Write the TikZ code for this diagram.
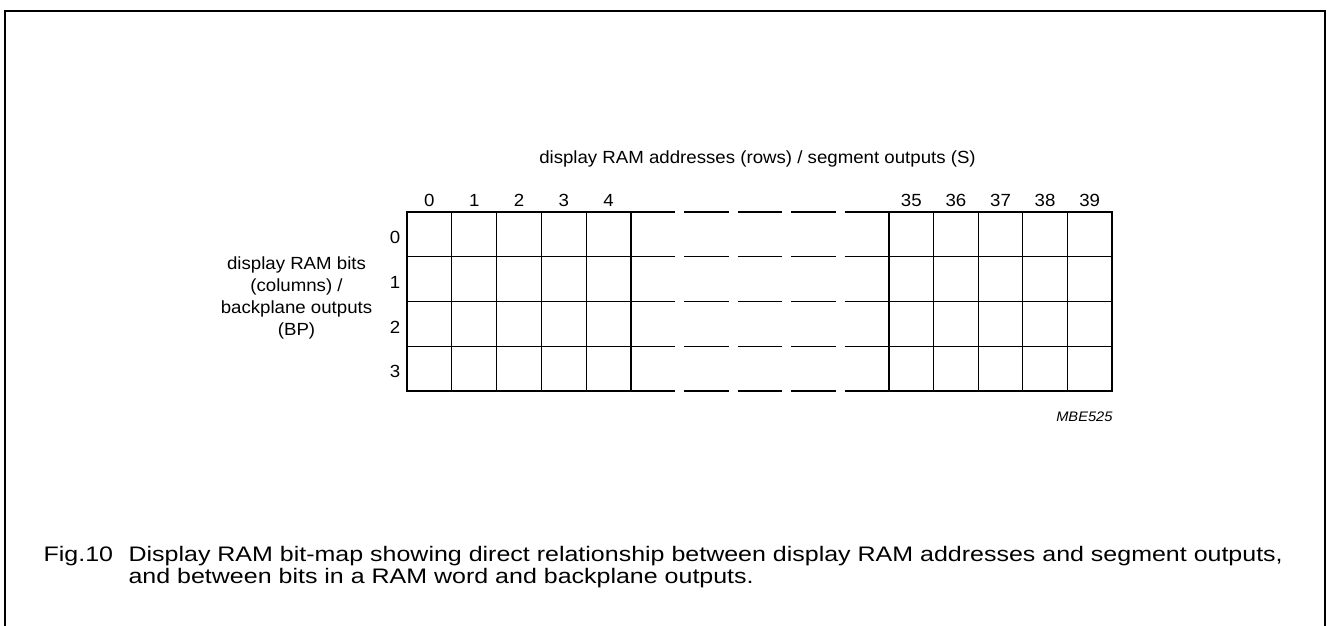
\documentclass[tikz,border=0pt]{standalone}
\usepackage{fontspec}
\setmainfont{Liberation Sans}[FakeStretch=1.06]
\newfontfamily\capfont{Liberation Sans}[FakeStretch=1.19]
\newcommand{\lblsize}{\fontsize{17.6}{22.2}\selectfont}
\newcommand{\capsize}{\capfont\fontsize{21}{22.6}\selectfont}
\begin{document}
\begin{tikzpicture}[x=1pt,y=-1pt,line width=1.2pt,inner sep=0pt,font=\lblsize]
\useasboundingbox (0,0) rectangle (1327,626);
\draw[line width=1.8pt] (5,626)--(5,11)--(1325,11)--(1325,626);
\draw (407,212) rectangle (631,391);
\draw (451.8,212)--(451.8,391) (496.6,212)--(496.6,391) (541.4,212)--(541.4,391) (586.2,212)--(586.2,391);
\draw (407,256.75)--(631,256.75) (407,301.5)--(631,301.5) (407,346.25)--(631,346.25);
\draw (889,212) rectangle (1112,391);
\draw (933.6,212)--(933.6,391) (978.2,212)--(978.2,391) (1022.8,212)--(1022.8,391) (1067.4,212)--(1067.4,391);
\draw (889,256.75)--(1112,256.75) (889,301.5)--(1112,301.5) (889,346.25)--(1112,346.25);
\draw[dash pattern=on 44.4pt off 9pt] (631,212)--(889,212) (631,256.75)--(889,256.75) (631,301.5)--(889,301.5)
 (631,346.25)--(889,346.25) (631,391)--(889,391);
\draw node[anchor=base] (addr) at (757.5,163) {display RAM addresses (rows) / segment outputs (S)};
\draw node[anchor=base] (c0) at (429.4,206) {0};
\draw node[anchor=base] (c1) at (474.2,206) {1};
\draw node[anchor=base] (c2) at (519,206) {2};
\draw node[anchor=base] (c3) at (563.8,206) {3};
\draw node[anchor=base] (c4) at (608.6,206) {4};
\draw node[anchor=base] (c35) at (911.3,206) {35};
\draw node[anchor=base] (c36) at (955.9,206) {36};
\draw node[anchor=base] (c37) at (1000.5,206) {37};
\draw node[anchor=base] (c38) at (1045.1,206) {38};
\draw node[anchor=base] (c39) at (1089.7,206) {39};
\draw node (r0) at (395,237.4) {0};
\draw node (r1) at (395,282.1) {1};
\draw node (r2) at (395,326.9) {2};
\draw node (r3) at (395,371.6) {3};
\draw node[align=center] (bits) at (296.5,298) {display RAM bits\\(columns) /\\backplane outputs\\(BP)};
\draw node[anchor=base east,font=\itshape\fontsize{13.8}{16}\selectfont] (code) at (1113,421) {MBE525};
\draw node[anchor=base west,font=\capsize] (fig) at (43,561) {Fig.10};
\draw node[anchor=base west,font=\capsize] (cap1) at (128,561) {Display RAM bit-map showing direct relationship between display RAM addresses and segment outputs,};
\draw node[anchor=base west,font=\capsize] (cap2) at (128,583.5) {and between bits in a RAM word and backplane outputs.};
\end{tikzpicture}
\end{document}
